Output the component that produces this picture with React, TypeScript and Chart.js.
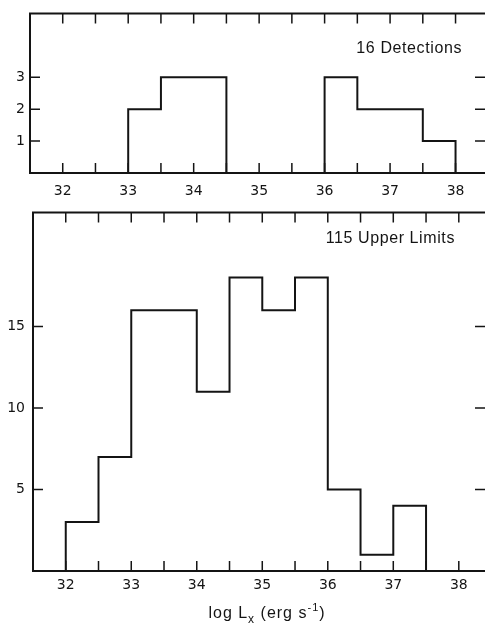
import React, { useEffect, useRef } from "react";
import { Chart, registerables } from "chart.js";
Chart.register(...registerables);

const binStarts = [32, 32.5, 33, 33.5, 34, 34.5, 35, 35.5, 36, 36.5, 37, 37.5];
const binWidth = 0.5;
const detections = [0, 0, 2, 3, 3, 0, 0, 0, 3, 2, 2, 1];
const upperLimits = [3, 7, 16, 16, 11, 18, 16, 18, 5, 1, 4, 0];
const xTickLabels = [32, 33, 34, 35, 36, 37, 38];
const xMinorTicks = [32, 32.5, 33, 33.5, 34, 34.5, 35, 35.5, 36, 36.5, 37, 37.5, 38];
const detectionTicks = [1, 2, 3];
const upperLimitTicks = [5, 10, 15];
const detectionLabel = "16 Detections";
const upperLimitLabel = "115 Upper Limits";

const INK = "#141414";
const TICK_FONT = { family: "'DejaVu Sans', sans-serif", size: 14 };

function stepPoints(counts: number[]) {
  const pts = [{ x: binStarts[0], y: 0 }];
  binStarts.forEach((x, i) => pts.push({ x, y: counts[i] }));
  pts.push({ x: binStarts[binStarts.length - 1] + binWidth, y: 0 });
  return pts;
}

const framePlugin = {
  id: "frame",
  afterDatasetsDraw(chart: any, _args: any, opts: any) {
    const { ctx, chartArea, scales } = chart;
    const { left, right, top, bottom } = chartArea;
    const x = scales.x;
    const y = scales.y;
    ctx.save();
    ctx.strokeStyle = INK;
    ctx.lineWidth = 2;
    ctx.lineCap = "square";
    ctx.beginPath();
    ctx.moveTo(right + 4, top);
    ctx.lineTo(left, top);
    ctx.lineTo(left, bottom);
    ctx.lineTo(right + 4, bottom);
    ctx.stroke();
    ctx.lineCap = "butt";
    ctx.lineWidth = 1.5;
    ctx.beginPath();
    for (const v of opts.xTicks) {
      const px = x.getPixelForValue(v);
      ctx.moveTo(px, top);
      ctx.lineTo(px, top + opts.len);
      ctx.moveTo(px, bottom);
      ctx.lineTo(px, bottom - opts.len);
    }
    for (const v of opts.yTicks) {
      const py = y.getPixelForValue(v);
      ctx.moveTo(left, py);
      ctx.lineTo(left + opts.len, py);
      ctx.moveTo(right, py);
      ctx.lineTo(right - opts.len, py);
    }
    ctx.stroke();

    ctx.fillStyle = INK;
    ctx.font = '16px "Liberation Sans"';
    ctx.letterSpacing = "0.6px";
    ctx.textAlign = "right";
    ctx.textBaseline = "middle";
    ctx.fillText(opts.label, opts.labelX, opts.labelY);

    if (opts.title) {
      const parts = [
        { t: "log L", font: '16px "Liberation Sans"', dy: 0 },
        { t: "x", font: '12px "Liberation Sans"', dy: 5 },
        { t: " (erg s", font: '16px "Liberation Sans"', dy: 0 },
        { t: "-1", font: '11px "Liberation Sans"', dy: -7 },
        { t: ")", font: '16px "Liberation Sans"', dy: 0 },
      ];
      ctx.letterSpacing = "1px";
      ctx.textAlign = "left";
      ctx.textBaseline = "alphabetic";
      let total = 0;
      const widths = parts.map((p) => {
        ctx.font = p.font;
        const w = ctx.measureText(p.t).width;
        total += w;
        return w;
      });
      let cx = opts.titleX - total / 2;
      parts.forEach((p, i) => {
        ctx.font = p.font;
        ctx.fillText(p.t, cx, opts.titleY + p.dy);
        cx += widths[i];
      });
    }
    ctx.restore();
  },
};

function makeConfig(counts: number[], geom: any) {
  return {
    type: "line",
    data: {
      datasets: [
        {
          data: stepPoints(counts),
          stepped: true,
          borderColor: INK,
          borderWidth: 2,
          pointRadius: 0,
          fill: false,
        },
      ],
    },
    options: {
      animation: false,
      responsive: false,
      devicePixelRatio: 1,
      layout: { padding: { top: geom.top, left: 0, right: 0, bottom: 0 } },
      plugins: {
        legend: { display: false },
        tooltip: { enabled: false },
        frame: {
          xTicks: xMinorTicks,
          yTicks: geom.yTicks,
          len: 10,
          label: geom.label,
          labelX: geom.labelX,
          labelY: geom.labelY,
          title: geom.title,
          titleX: geom.titleX,
          titleY: geom.titleY,
        },
      },
      scales: {
        x: {
          type: "linear",
          min: 31.5,
          max: geom.xMax,
          afterBuildTicks: (s: any) => {
            s.ticks = xTickLabels.map((v) => ({ value: v }));
          },
          afterFit: (s: any) => {
            s.height = geom.xAxisHeight;
          },
          grid: { display: false, drawTicks: false },
          border: { display: false },
          ticks: { font: TICK_FONT, color: INK, padding: geom.xPad, maxRotation: 0, autoSkip: false },
        },
        y: {
          type: "linear",
          min: 0,
          max: geom.yMax,
          afterBuildTicks: (s: any) => {
            s.ticks = geom.yTicks.map((v: number) => ({ value: v }));
          },
          afterFit: (s: any) => {
            s.width = geom.left;
          },
          grid: { display: false, drawTicks: false },
          border: { display: false },
          ticks: { font: TICK_FONT, color: INK, padding: geom.yPad },
        },
      },
    },
    plugins: [framePlugin],
  } as any;
}

export default function App() {
  const topRef = useRef<HTMLCanvasElement>(null);
  const botRef = useRef<HTMLCanvasElement>(null);
  useEffect(() => {
    const c1 = new Chart(
      topRef.current as HTMLCanvasElement,
      makeConfig(detections, {
        top: 9,
        left: 30,
        xMax: 38.45,
        xAxisHeight: 29,
        xPad: 10,
        yPad: 5,
        yMax: 5,
        yTicks: detectionTicks,
        label: detectionLabel,
        labelX: 462,
        labelY: 49,
      })
    );
    const c2 = new Chart(
      botRef.current as HTMLCanvasElement,
      makeConfig(upperLimits, {
        top: 10,
        left: 33,
        xMax: 38.4,
        xAxisHeight: 55,
        xPad: 6,
        yPad: 8,
        yMax: 22,
        yTicks: upperLimitTicks,
        label: upperLimitLabel,
        labelX: 455,
        labelY: 43,
        title: true,
        titleX: 267,
        titleY: 422,
      })
    );
    return () => {
      c1.destroy();
      c2.destroy();
    };
  }, []);
  return (
    <div
      style={{
        position: "fixed",
        left: 0,
        top: 0,
        width: 485,
        height: 626,
        background: "#fff",
        overflow: "hidden",
      }}
    >
      <canvas ref={botRef} width={485} height={430} style={{ position: "absolute", left: 0, top: 196 }} />
      <canvas ref={topRef} width={485} height={202} style={{ position: "absolute", left: 0, top: 0 }} />
    </div>
  );
}
